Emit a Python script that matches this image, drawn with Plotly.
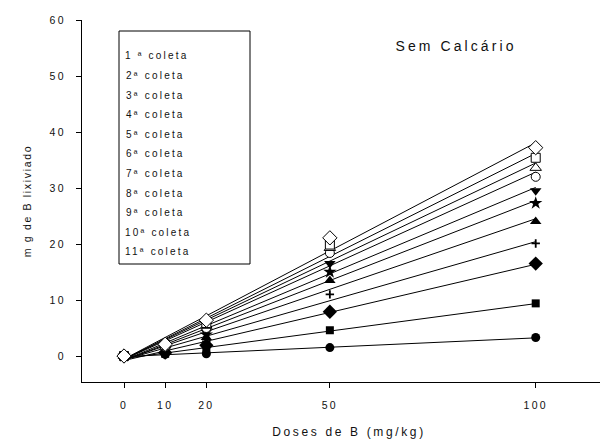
import numpy as np
import plotly.graph_objects as go

# ---------------- data ----------------
doses = [0, 10, 20, 50, 100]
x_ticks = [0, 10, 20, 50, 100]
y_ticks = [0, 10, 20, 30, 40, 50, 60]
coletas = ["1 ª coleta", "2ª coleta", "3ª coleta", "4ª coleta", "5ª coleta",
           "6ª coleta", "7ª coleta", "8ª coleta", "9ª coleta", "10ª coleta", "11ª coleta"]

c01 = [0, 0.3, 0.4, 1.5, 3.3]
c02 = [0, 0.4, 1.0, 4.6, 9.4]
c03 = [0, 0.6, 1.9, 7.9, 16.5]
c04 = [0, 0.9, 2.6, 11.0, 20.1]
c05 = [0, 1.1, 3.3, 13.5, 24.0]
c06 = [0, 1.3, 3.8, 15.0, 27.3]
c07 = [0, 1.5, 4.3, 16.5, 29.5]
c08 = [0, 1.7, 5.0, 18.4, 32.0]
c09 = [0, 1.9, 5.4, 19.3, 33.6]
c10 = [0, 2.0, 5.9, 19.9, 35.4]
c11 = [0, 2.1, 6.4, 21.1, 37.2]
series = [c01, c02, c03, c04, c05, c06, c07, c08, c09, c10, c11]

panel_title = "Sem Calcário"
x_title = "Doses de B (mg/kg)"
y_title = "m g de B lixiviado"

# ---------------- styles ----------------
marker_styles = [
    dict(symbol="circle", size=9, color="black"),
    dict(symbol="square", size=8, color="black"),
    dict(symbol="diamond", size=11, color="black"),
    dict(symbol="cross-thin", size=6, color="black", line=dict(width=1.8, color="black")),
    dict(symbol="triangle-up", size=10, color="black"),
    dict(symbol="star", size=10, color="black"),
    dict(symbol="triangle-down", size=10, color="black"),
    dict(symbol="circle", size=9, color="white", line=dict(width=1, color="black")),
    dict(symbol="triangle-up", size=10, color="white", line=dict(width=1, color="black")),
    dict(symbol="square", size=9, color="white", line=dict(width=1, color="black")),
    dict(symbol="diamond", size=11, color="white", line=dict(width=1, color="black")),
]

FONT = "Liberation Sans, Arial, sans-serif"
TXT = "#111111"

W, H = 608, 441
ML, MR, MT, MB = 74, 0, 12, 67
XR = [-10.2, 119.5]
YR = [-4.64, 60]


def px_to_x(px):
    return XR[0] + (px - ML) / (W - ML - MR) * (XR[1] - XR[0])


def px_to_y(py):
    return YR[1] - (py - MT) / (H - MT - MB) * (YR[1] - YR[0])


fig = go.Figure()

xd = np.array(doses, dtype=float)
# regression lines
for ys in series:
    slope, icpt = np.polyfit(xd, np.array(ys, dtype=float), 1)
    xl = np.array([doses[0], doses[-1]], dtype=float)
    fig.add_trace(go.Scatter(x=xl, y=slope * xl + icpt, mode="lines",
                             line=dict(color="black", width=1),
                             showlegend=False, hoverinfo="skip"))
# points
for name, ys, ms in zip(coletas, series, marker_styles):
    m = dict(ms)
    if "line" not in m:
        m["line"] = dict(width=0)
    fig.add_trace(go.Scatter(x=doses, y=ys, mode="markers", name=name,
                             marker=m, showlegend=False, cliponaxis=False))

# legend box (text only)
fig.add_shape(type="rect", xref="x", yref="y",
              x0=px_to_x(111), x1=px_to_x(242), y0=px_to_y(256), y1=px_to_y(23),
              line=dict(color="black", width=1), fillcolor="rgba(0,0,0,0)", layer="below")
for i, name in enumerate(coletas):
    fig.add_annotation(x=px_to_x(126), y=px_to_y(47.8 + 19.6 * i), xref="x", yref="y",
                       text=name, showarrow=False, xanchor="left", yanchor="middle",
                       font=dict(family=FONT, size=10, color=TXT))

fig.add_annotation(x=px_to_x(404), y=px_to_y(38), xref="x", yref="y",
                   text=panel_title, showarrow=False, xanchor="left", yanchor="middle",
                   font=dict(family=FONT, size=14, color=TXT))

axis_common = dict(showgrid=False, zeroline=False, showline=True, linecolor="black",
                   linewidth=1, ticks="outside", ticklen=5, tickwidth=1, tickcolor="black",
                   tickfont=dict(family=FONT, size=10.5, color=TXT))

fig.update_layout(
    width=W, height=H,
    margin=dict(l=ML, r=MR, t=MT, b=MB, autoexpand=False),
    paper_bgcolor="white", plot_bgcolor="white",
    showlegend=False,
    xaxis=dict(range=XR, tickvals=x_ticks, ticktext=[str(v) for v in x_ticks],
               title=dict(text=x_title, font=dict(family=FONT, size=12, color=TXT), standoff=18),
               ticklabelstandoff=8, automargin=False, **axis_common),
    yaxis=dict(range=YR, tickvals=y_ticks, ticktext=[str(v) for v in y_ticks],
               title=dict(text=y_title, font=dict(family=FONT, size=10.5, color=TXT), standoff=20),
               ticklabelstandoff=8, automargin=False, **axis_common),
)

post = ("document.head.insertAdjacentHTML('beforeend',"
        "'<style>.main-svg text{letter-spacing:0.22em} .main-svg .ytitle{letter-spacing:0.16em}</style>');")
fig.write_html("out.html", post_script=post)
